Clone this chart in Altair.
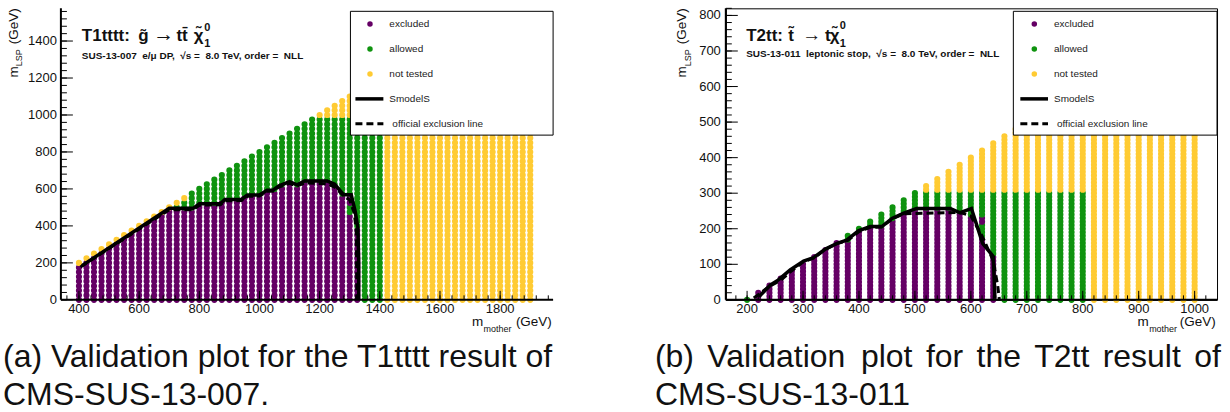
import altair as alt
import pandas as pd

PURPLE = "#650065"
GREEN = "#0f930f"
YELLOW = "#ffcb33"
FONT = "Liberation Sans"
CLS = ["excluded", "allowed", "not tested"]

# ---------------- Left panel: T1tttt, CMS-SUS-13-007 ----------------
L_mother = [400, 425, 450, 475, 500, 525, 550, 575, 600, 625, 650, 675, 700, 725, 750, 775,
            800, 825, 850, 875, 900, 925, 950, 975, 1000, 1025, 1050, 1075, 1100, 1125, 1150,
            1175, 1200, 1225, 1250, 1275, 1300, 1325, 1350, 1375, 1400, 1425, 1450, 1475, 1500,
            1525, 1550, 1575, 1600, 1625, 1650, 1675, 1700, 1725, 1750, 1775, 1800, 1825, 1850,
            1875, 1900]
L_excl_top = [175, 200, 225, 250, 275, 300, 325, 350, 375, 400, 425, 450, 475, 475, 475, 475,
              500, 500, 500, 525, 525, 525, 550, 550, 550, 575, 575, 600, 625, 600, 625,
              625, 625, 625, 600, 550, 550, 375, -1, -1, -1, -1, -1, -1, -1,
              -1, -1, -1, -1, -1, -1, -1, -1, -1, -1, -1, -1, -1, -1,
              -1, -1]
L_allow_top = [175, 200, 225, 250, 275, 300, 325, 350, 375, 400, 425, 450, 475, 500, 525, 575,
               600, 625, 650, 675, 700, 725, 750, 775, 800, 825, 850, 875, 900, 925, 950,
               975, 975, 975, 975, 975, 975, 975, 975, 975, 975, -1, -1, -1, -1,
               -1, -1, -1, -1, -1, -1, -1, -1, -1, -1, -1, -1, -1, -1,
               -1, -1]
L_top = [200, 225, 250, 275, 300, 325, 350, 375, 400, 425, 450, 475, 500, 525, 550, 575,
         600, 625, 650, 675, 700, 725, 750, 775, 800, 825, 850, 875, 900, 925, 950,
         975, 1000, 1025, 1050, 1075, 1100, 1125, 1150, 1175, 1200, 975, 975, 975, 975,
         975, 975, 975, 975, 975, 975, 975, 975, 975, 975, 975, 975, 975, 975,
         975, 975]
L_step = 25
L_green_x = [1300, 1300]
L_green_y = [475, 500]

L_smodels_x = [410, 700, 780, 800, 870, 885, 940, 960, 1000, 1025, 1045, 1065, 1100, 1125,
               1150, 1225, 1250, 1280, 1305, 1318, 1327, 1330, 1330]
L_smodels_y = [185, 495, 495, 520, 520, 543, 543, 567, 567, 593, 593, 617, 640, 622,
               643, 643, 625, 568, 568, 480, 390, 200, 0]
L_official_x = [405, 700, 780, 800, 870, 885, 940, 960, 1000, 1025, 1045, 1065, 1100, 1125,
                1150, 1225, 1250, 1280, 1300, 1315, 1322, 1324]
L_official_y = [178, 487, 488, 512, 514, 536, 537, 560, 562, 587, 588, 610, 630, 616,
                632, 628, 610, 562, 540, 470, 370, 0]

L_x_major = [400, 600, 800, 1000, 1200, 1400, 1600, 1800]
L_x_minor = list(range(360, 1976, 40))
L_y_major = [0, 200, 400, 600, 800, 1000, 1200, 1400]
L_y_minor = list(range(0, 1577, 40))

# ---------------- Right panel: T2tt, CMS-SUS-13-011 ----------------
R_mother = [200, 220, 240, 260, 280, 300, 320, 340, 360, 380, 400, 420, 440, 460, 480, 500,
            520, 540, 560, 580, 600, 620, 640, 660, 680, 700, 720, 740, 760, 780, 800, 820,
            840, 860, 880, 900, 920, 940, 960, 980, 1000]
R_excl_top = [-1, 20, 40, 60, 80, 100, 120, 140, 160, 160, 190, 200, 200, 220, 240, 250,
              250, 250, 250, 240, 230, 230, 120, -1, -1, -1, -1, -1, -1, -1, -1, -1,
              -1, -1, -1, -1, -1, -1, -1, -1, -1]
R_allow_top = [0, 20, 40, 60, 80, 100, 120, 140, 160, 180, 200, 220, 240, 260, 280, 300,
               300, 300, 300, 300, 300, 300, 300, 300, 300, 300, 300, 300, 300, 300, 300, -1,
               -1, -1, -1, -1, -1, -1, -1, -1, -1]
R_top = [0, 20, 40, 60, 80, 100, 120, 140, 160, 180, 200, 220, 240, 260, 280, 300,
         320, 340, 360, 380, 400, 420, 440, 460, 480, 500, 520, 540, 560, 580, 600, 620,
         640, 660, 680, 700, 720, 740, 760, 780, 800]
R_step = 10
R_green_x = [620, 620, 620, 620]
R_green_y = [180, 190, 200, 210]

R_smodels_x = [221, 242, 256, 277, 301, 319, 340, 361, 378, 399, 420, 441, 459, 479, 503,
               563, 581, 601, 621, 640, 643]
R_smodels_y = [9, 42, 56, 84, 109, 119, 143, 159, 168, 194, 206, 206, 229, 243, 257,
               257, 245, 257, 159, 122, 3]
R_official_x = [212, 240, 260, 280, 300, 320, 340, 360, 380, 400, 420, 440, 460, 480, 580,
                600, 620, 640, 648, 651]
R_official_y = [5, 38, 55, 82, 106, 118, 142, 158, 167, 192, 204, 205, 228, 242, 246,
                236, 180, 110, 40, 0]

R_x_major = [200, 300, 400, 500, 600, 700, 800, 900, 1000]
R_x_minor = list(range(180, 1040, 20))
R_y_major = [0, 100, 200, 300, 400, 500, 600, 700, 800]
R_y_minor = list(range(0, 821, 20))

LEGEND_LABELS = ["excluded", "allowed", "not tested", "SmodelS", "official exclusion line"]

ONE = pd.DataFrame({"d": [0]})


def grid(mother, excl, allow, top, step, gx, gy):
    spots = set(zip(gx, gy))
    rows = []
    for m, e, a, t in zip(mother, excl, allow, top):
        for k in range(t // step + 1):
            y = k * step
            if (m, y) in spots:
                c = "allowed"
            elif y <= e:
                c = "excluded"
            elif y <= a:
                c = "allowed"
            else:
                c = "not tested"
            rows.append({"m": m, "lsp": y, "cls": c})
    return pd.DataFrame(rows)


def line_df(xs, ys):
    return pd.DataFrame({"m": xs, "lsp": ys, "i": list(range(len(xs)))})


def txt(s, x, y, size, weight="normal", align="left", angle=0, baseline="alphabetic",
        color="#111111"):
    return alt.Chart(ONE).mark_text(
        text=s, fontSize=size, fontWeight=weight, align=align, angle=angle,
        baseline=baseline, color=color, font=FONT
    ).encode(x=alt.value(x), y=alt.value(y))


def panel(P):
    W, H = P["W"], P["H"]
    xs = alt.Scale(domain=P["xdom"], nice=False, zero=False)
    ys = alt.Scale(domain=P["ydom"], nice=False, zero=False)
    X = lambda f: alt.X(f, scale=xs, axis=None)
    Y = lambda f: alt.Y(f, scale=ys, axis=None)
    layers = []
    if P.get("bg"):
        layers.append(alt.Chart(ONE).mark_rect(fill="white", strokeWidth=0).encode(
            x=alt.value(P["bg"][0]), x2=alt.value(P["bg"][1]),
            y=alt.value(P["bg"][2]), y2=alt.value(P["bg"][3])))
    layers.append(alt.Chart(P["pts"]).mark_circle(size=P["dot"], opacity=1).encode(
        x=X("m:Q"), y=Y("lsp:Q"),
        color=alt.Color("cls:N", scale=alt.Scale(domain=CLS, range=[PURPLE, GREEN, YELLOW]),
                        legend=None)))
    layers.append(alt.Chart(P["official"]).mark_line(
        color="black", strokeWidth=3, strokeDash=[7, 4]).encode(
        x=X("m:Q"), y=Y("lsp:Q"), order="i:Q"))
    layers.append(alt.Chart(P["smodels"]).mark_line(
        color="black", strokeWidth=3.5).encode(
        x=X("m:Q"), y=Y("lsp:Q"), order="i:Q"))
    # ticks inside the frame (ROOT style)
    for vals, ln in ((P["x_minor"], 4.5), (P["x_major"], 9)):
        layers.append(alt.Chart(pd.DataFrame({"v": vals})).mark_rule(
            color="black", strokeWidth=1).encode(
            x=X("v:Q"), y=alt.value(H), y2=alt.value(H - ln)))
    for vals, ln in ((P["y_minor"], 6), (P["y_major"], 12)):
        layers.append(alt.Chart(pd.DataFrame({"v": vals})).mark_rule(
            color="black", strokeWidth=1).encode(
            y=Y("v:Q"), x=alt.value(0), x2=alt.value(ln)))
    # axis lines
    layers.append(alt.Chart(ONE).mark_rule(color="black", strokeWidth=2).encode(
        x=alt.value(0), x2=alt.value(W), y=alt.value(H)))
    layers.append(alt.Chart(ONE).mark_rule(color="black", strokeWidth=2).encode(
        x=alt.value(0), y=alt.value(0), y2=alt.value(H)))
    # tick labels
    xl = pd.DataFrame({"v": P["x_major"], "lab": [str(v) for v in P["x_major"]]})
    layers.append(alt.Chart(xl).mark_text(
        font=FONT, fontSize=13, color="#111111", baseline="top", align="center").encode(
        x=X("v:Q"), y=alt.value(H + 3), text="lab:N"))
    yl = pd.DataFrame({"v": P["y_major"], "lab": [str(v) for v in P["y_major"]]})
    layers.append(alt.Chart(yl).mark_text(
        font=FONT, fontSize=13, color="#111111", baseline="middle", align="right").encode(
        y=Y("v:Q"), x=alt.value(-P["ylabpad"]), text="lab:N"))
    # legend box
    lx0, lx1 = P["leg_box"]
    layers.append(alt.Chart(ONE).mark_rect(fill="white", stroke="black", strokeWidth=1).encode(
        x=alt.value(lx0), x2=alt.value(lx1), y=alt.value(3), y2=alt.value(127)))
    rows = [15.7, 40.7, 65.7, 90.7, 115.7]
    for col, ry in zip([PURPLE, GREEN, YELLOW], rows[:3]):
        layers.append(alt.Chart(ONE).mark_circle(size=30, opacity=1, color=col).encode(
            x=alt.value(P["leg_mark"]), y=alt.value(ry)))
    layers.append(alt.Chart(ONE).mark_rule(color="black", strokeWidth=3.5).encode(
        x=alt.value(P["leg_line"][0]), x2=alt.value(P["leg_line"][1]), y=alt.value(rows[3])))
    layers.append(alt.Chart(ONE).mark_rule(color="black", strokeWidth=3, strokeDash=[7, 4]).encode(
        x=alt.value(P["leg_line"][0]), x2=alt.value(P["leg_line"][1]), y=alt.value(rows[4])))
    for k, lab in enumerate(LEGEND_LABELS):
        tx = P["leg_text"] if k < 4 else P["leg_text"] + 3
        layers.append(txt(lab, tx, rows[k], 10, baseline="middle", color="#222222"))
    # title pieces
    for s, x, y, size, wt in P["title"]:
        layers.append(txt(s, x, y, size, weight=wt))
    layers.append(txt(P["subtitle"], P["title"][0][1], P["sub_y"], 10, weight="bold"))
    # axis titles (with subscripts)
    xt = P["xtitle"]
    layers.append(txt("m", xt[0], 318, 13.5))
    layers.append(txt("mother", xt[1], 324.5, 9))
    layers.append(txt("(GeV)", xt[2], 318, 13.5, align="right"))
    yt = P["ytitle"]
    layers.append(txt("(GeV)", yt[0], 0, 13.5, align="right", angle=270))
    layers.append(txt("LSP", yt[1], 41, 9, align="right", angle=270))
    layers.append(txt("m", yt[0], 58, 13.5, align="right", angle=270))
    # caption
    for s, x, y in P["caption"]:
        layers.append(txt(s, x, y, 32))
    return alt.layer(*layers).properties(width=W, height=H)


NB = "\u00a0"
left = panel({
    "W": 493, "H": 292, "xdom": [340, 1976], "ydom": [0, 1577], "ylabpad": 4, "dot": 38,
    "bg": (-60, 1170, -7, 405),
    "pts": grid(L_mother, L_excl_top, L_allow_top, L_top, L_step, L_green_x, L_green_y),
    "smodels": line_df(L_smodels_x, L_smodels_y),
    "official": line_df(L_official_x, L_official_y),
    "x_major": L_x_major, "x_minor": L_x_minor, "y_major": L_y_major, "y_minor": L_y_minor,
    "leg_box": (290, 493), "leg_mark": 309.6, "leg_text": 329, "leg_line": (295, 323),
    "title": [("T1tttt:", 21, 32.3, 17, "bold"), ("g\u0303", 77.5, 32.3, 17, "bold"),
              ("\u2192", 92.5, 33, 21, "normal"), ("tt\u0304", 115.7, 32.3, 17, "bold"),
              ("\u03c7\u0303", 133, 32.3, 17, "bold"), ("0", 143.6, 23, 11, "bold"),
              ("1", 143.6, 39, 11, "bold")],
    "subtitle": "SUS-13-007" + NB + NB + "e/\u03bc DP," + NB + NB + "\u221as =" + NB + NB
                + "8.0 TeV, order =" + NB + NB + "NLL",
    "sub_y": 50.3,
    "xtitle": (411.7, 423.3, 491.7),
    "ytitle": (-42.5, -38.5),
    "caption": [("(a) Validation plot for the T1tttt result of", -58, 359),
                ("CMS-SUS-13-007.", -58, 397)],
})

r_words = ["(b)", "Validation", "plot", "for", "the", "T2tt", "result", "of"]
r_word_x = [655, 707.5, 861.4, 926.4, 977.1, 1035, 1103.5, 1195.1]
right = panel({
    "W": 492, "H": 292, "xdom": [162, 1040], "ydom": [0, 820], "ylabpad": 5, "dot": 38,
    "pts": grid(R_mother, R_excl_top, R_allow_top, R_top, R_step, R_green_x, R_green_y),
    "smodels": line_df(R_smodels_x, R_smodels_y),
    "official": line_df(R_official_x, R_official_y),
    "x_major": R_x_major, "x_minor": R_x_minor, "y_major": R_y_major, "y_minor": R_y_minor,
    "leg_box": (288, 492), "leg_mark": 309, "leg_text": 328.7, "leg_line": (295, 322.7),
    "title": [("T2tt:", 20.4, 32.3, 17, "bold"), ("t\u0303", 62.6, 32.3, 17, "bold"),
              ("\u2192", 76.5, 33, 19, "normal"), ("t", 99.4, 32.3, 17, "bold"),
              ("\u03c7\u0303", 104, 32.3, 17, "bold"), ("0", 114, 21, 11, "bold"),
              ("1", 114, 39, 11, "bold")],
    "subtitle": "SUS-13-011" + NB + NB + "leptonic stop," + NB + NB + "\u221as =" + NB + NB
                + "8.0 TeV, order =" + NB + NB + "NLL",
    "sub_y": 49,
    "xtitle": (412.3, 424, 490.7),
    "ytitle": (-40, -35.3),
    "caption": [(w, x - 726, 359) for w, x in zip(r_words, r_word_x)]
               + [("CMS-SUS-13-011", 655 - 726, 397)],
})

chart = alt.hconcat(left, right, spacing=173, bounds="flush").properties(
    padding=0, background="white"
).configure_view(stroke="black", strokeWidth=1)

chart.save("out.html", embed_options={"renderer": "svg", "actions": False})
